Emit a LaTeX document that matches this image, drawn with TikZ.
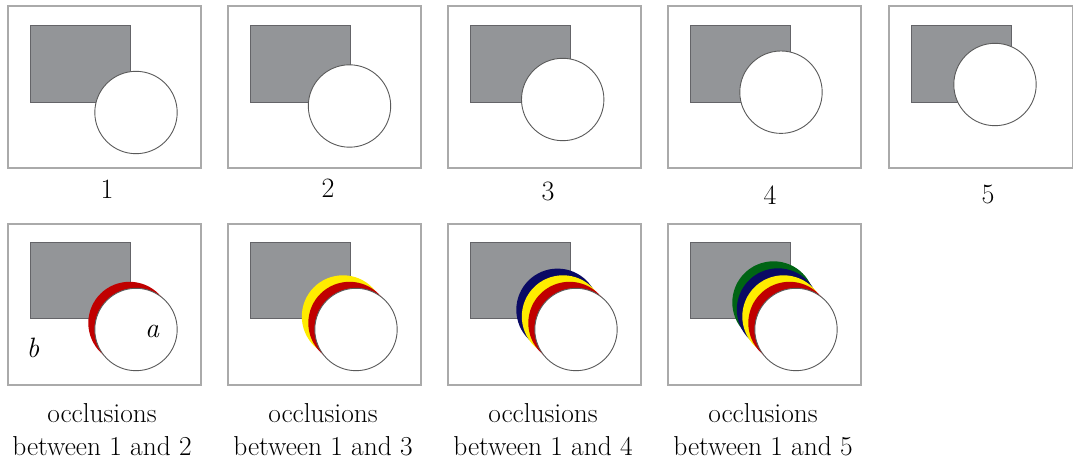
\documentclass[tikz,border=0pt]{standalone}
\definecolor{framegray}{RGB}{170,170,170}
\definecolor{rectgray}{RGB}{147,149,152}
\definecolor{rectedge}{RGB}{100,100,104}
\definecolor{circedge}{RGB}{90,90,90}
\definecolor{occred}{RGB}{192,0,0}
\definecolor{occyellow}{RGB}{255,236,0}
\definecolor{occnavy}{RGB}{10,10,100}
\definecolor{occgreen}{RGB}{0,100,20}
\tikzset{
  framebox/.style={draw=framegray, line width=1.4pt, fill=white},
  objrect/.style={fill=rectgray, draw=rectedge, line width=0.9pt},
  disc/.style={fill=white, draw=circedge, line width=0.9pt},
  ring/.style={fill=#1, draw=none},
  lbl/.style={font=\fontsize{28}{33}\selectfont, anchor=base, inner sep=0pt},
  captxt/.style={font=\fontsize{27.4}{33}\selectfont, align=center, anchor=base, inner sep=0pt},
  itl/.style={font=\fontsize{28}{33}\selectfont\itshape, anchor=base, inner sep=0pt}
}
\begin{document}
\begin{tikzpicture}[x=1pt,y=-1pt]
\useasboundingbox (0,0) rectangle (1074,462);
% ---------- row 1 ----------
\foreach \i/\x/\w/\cx/\cy/\ly/\lx in {1/8/193/128/106.5/199/107,2/228/193/121.5/100/198/328,3/448/193/114.7/93.5/201/548,4/668/193/113/86.2/205/770,5/889/183.5/106/78.5/204/988}{
  \draw[framebox] (\x,6) rectangle ++(\w,162);
  \draw[objrect] (\x+22,25) rectangle ++(100,77);
  \draw[disc] (\x+\cx,6+\cy) circle[radius=41.2];
  \node[lbl] (n\i) at (\lx,\ly) {\i};
}
% ---------- row 2 ----------
% frame 1
\draw[framebox] (8,224) rectangle ++(193,161);
\draw[objrect] (30,242) rectangle ++(100,76);
\fill[ring=occred] (8+121.5,224+99) circle[radius=41.2];
\draw[disc] (8+128,224+105.5) circle[radius=41.2];
\node[itl] (a) at (152,338) {a};
\node[itl] (b) at (33,358) {b};
% frame 2
\draw[framebox] (228,224) rectangle ++(193,161);
\draw[objrect] (250,242) rectangle ++(100,76);
\fill[ring=occyellow] (228+115,224+92.5) circle[radius=41.2];
\fill[ring=occred] (228+121.5,224+99) circle[radius=41.2];
\draw[disc] (228+128,224+105.5) circle[radius=41.2];
% frame 3
\draw[framebox] (448,224) rectangle ++(193,161);
\draw[objrect] (470,242) rectangle ++(100,76);
\fill[ring=occnavy] (448+109.5,224+85.8) circle[radius=41.2];
\fill[ring=occyellow] (448+115,224+92.5) circle[radius=41.2];
\fill[ring=occred] (448+121.5,224+99) circle[radius=41.2];
\draw[disc] (448+128,224+105.5) circle[radius=41.2];
% frame 4
\draw[framebox] (668,224) rectangle ++(193,161);
\draw[objrect] (690,242) rectangle ++(100,76);
\fill[ring=occgreen] (668+105.5,224+78.5) circle[radius=41.2];
\fill[ring=occnavy] (668+110,224+85.5) circle[radius=41.2];
\fill[ring=occyellow] (668+115.5,224+92.5) circle[radius=41.2];
\fill[ring=occred] (668+121.5,224+99) circle[radius=41.2];
\draw[disc] (668+128,224+105.5) circle[radius=41.2];
% captions
\foreach \j/\cx in {2/102,3/323,4/543,5/763}{
  \node[captxt] (o\j) at (\cx,422) {occlusions};
  \node[captxt] (c\j) at (\cx,455) {between 1 and \j};
}
\end{tikzpicture}
\end{document}
